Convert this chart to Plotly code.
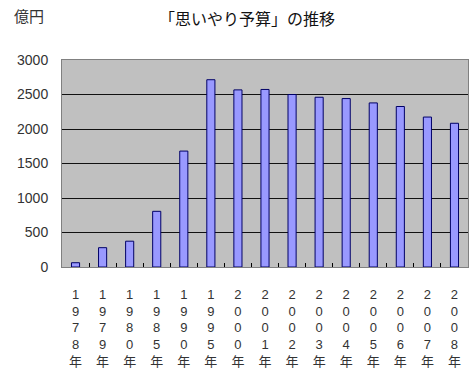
import plotly.graph_objects as go

years = ["1978", "1979", "1980", "1985", "1990", "1995", "2000", "2001",
         "2002", "2003", "2004", "2005", "2006", "2007", "2008"]
values = [62, 280, 374, 807, 1680, 2714, 2567, 2573, 2500, 2460, 2441, 2378, 2326, 2173, 2083]
labels = ["<br>".join(list(y)) + "<br>年" for y in years]

fig = go.Figure(go.Bar(
    x=labels, y=values, width=0.3,
    marker=dict(color="#9999ff", line=dict(color="#000066", width=1)),
))
fig.update_layout(
    width=470, height=385,
    margin=dict(l=62, r=2, t=60, b=118),
    paper_bgcolor="white", plot_bgcolor="#c0c0c0",
    showlegend=False,
    font=dict(family="Liberation Sans, Noto Sans CJK JP", color="#333333"),
    annotations=[
        dict(text="「思いやり予算」の推移", x=247, y=18, xref="paper", yref="paper",
             xanchor="center", yanchor="middle", showarrow=False,
             font=dict(family="Noto Sans CJK JP", size=16, color="#111111")),
        dict(text="億円", x=12, y=16, xref="paper", yref="paper", showarrow=False,
             xanchor="left", yanchor="middle",
             font=dict(family="Noto Sans CJK JP", size=15, color="#333333")),
    ],
)
# convert pixel positions to paper coordinates
pw, ph = 470 - 62 - 2, 385 - 60 - 118
for a in fig.layout.annotations:
    px, py = a.x, a.y
    a.update(x=(px - 62) / pw, y=(385 - 118 - py) / ph)
fig.update_xaxes(type="category", ticks="inside", tickson="boundaries", ticklen=4,
                 tickcolor="#000000", showline=True, linecolor="#808080", mirror=True,
                 ticklabelstandoff=15,
                 tickfont=dict(family="Liberation Sans, Noto Sans CJK JP", size=13, color="#333333"))
fig.update_yaxes(range=[0, 3000], dtick=500, showgrid=True, gridcolor="#111111", gridwidth=1,
                 showline=True, linecolor="#808080", mirror=True, zeroline=False,
                 ticklabelstandoff=10,
                 tickfont=dict(size=14, color="#333333"))
fig.write_html("out.html")
